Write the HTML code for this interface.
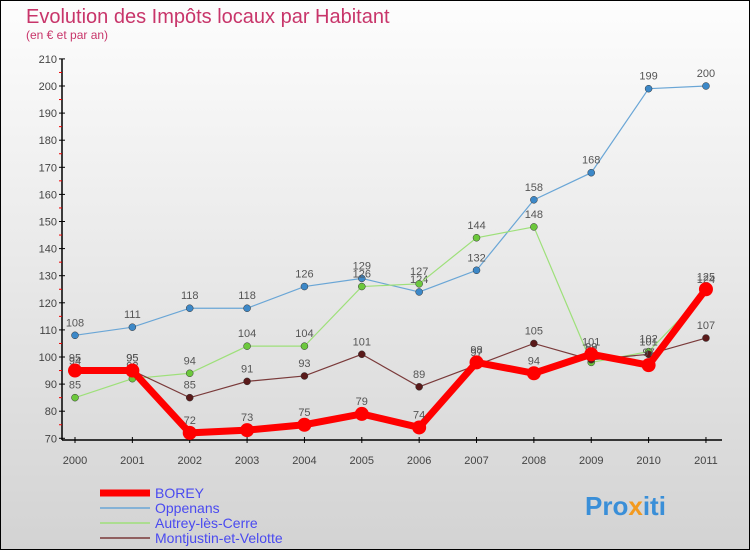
<!DOCTYPE html>
<html><head><meta charset="utf-8"><style>
body{margin:0;width:750px;height:550px;overflow:hidden;font-family:"Liberation Sans",sans-serif}
#c{position:absolute;left:0;top:0;width:748px;height:548px;border:1px solid #000;background:linear-gradient(#fdfdfd,#d3d3d3)}
</style></head><body>
<div id="c"></div>
<svg id="s" width="750" height="550" style="position:absolute;left:0;top:0">
<text x="26" y="23" font-size="20" fill="#c8356a">Evolution des Impôts locaux par Habitant</text>
<text x="26" y="39" font-size="12" fill="#c8356a">(en € et par an)</text>
<g id="axes"></g><g id="series"></g><g id="legend"></g>
<text x="585" y="515" font-size="26" font-weight="bold" fill="#3a8fd8">Pro<tspan fill="#f39a1f">x</tspan>iti</text>
</svg>
<script>
const years=[2000,2001,2002,2003,2004,2005,2006,2007,2008,2009,2010,2011];
const yTicks=[70,80,90,100,110,120,130,140,150,160,170,180,190,200,210];
const borey=[95,95,72,73,75,79,74,98,94,101,97,125];
const oppenans=[108,111,118,118,126,129,124,132,158,168,199,200];
const autrey=[85,92,94,104,104,126,127,144,148,98,102,124];
const montjustin=[94,95,85,91,93,101,89,97,105,99,101,107];
const NS="http://www.w3.org/2000/svg";
function xs(i){return 75+i*57.36;}
function ys(v){return 357-(v-100)*2.71;}
function mk(tag,at,par){const e=document.createElementNS(NS,tag);for(const k in at)e.setAttribute(k,at[k]);par.appendChild(e);return e;}
const ax=document.getElementById('axes');
let e=mk('line',{x1:62,y1:ys(210),x2:62,y2:440,stroke:'#000','stroke-width':1.5},ax);

e=mk('line',{x1:62,y1:440,x2:722,y2:440,stroke:'#000','stroke-width':1.5},ax);

yTicks.forEach(v=>{
 mk('line',{x1:59,y1:ys(v),x2:65,y2:ys(v),stroke:'#000'},ax);
 if(v<210)mk('line',{x1:59,y1:ys(v+5),x2:62,y2:ys(v+5),stroke:'#e00'},ax);
 const t=mk('text',{x:57,y:ys(v)+4,'font-size':11,'text-anchor':'end',fill:'#444'},ax);t.textContent=v;
 
});
years.forEach((y,i)=>{
 mk('line',{x1:xs(i),y1:437,x2:xs(i),y2:443,stroke:'#000'},ax);
 const t=mk('text',{x:xs(i),y:464,'font-size':11,'text-anchor':'middle',fill:'#444'},ax);t.textContent=y;
 
});
const sg=document.getElementById('series');
const defs=[
 {d:oppenans,c:'#6aa6d6',f:'#3c88c8',w:1.2,r:3.5,n:'oppenans',l:'Oppenans'},
 {d:autrey,c:'#9ee07a',f:'#6cc83c',w:1.2,r:3.5,n:'autrey',l:'Autrey-lès-Cerre'},
 {d:montjustin,c:'#7a3a3a',f:'#5a1a1a',w:1.2,r:3.5,n:'montjustin',l:'Montjustin-et-Velotte'},
 {d:borey,c:'#ff0000',f:'#ff0000',w:7,r:7,n:'borey',l:'BOREY'}];
defs.forEach(s=>{
 const g=mk('g',{},sg);
 
 const p=mk('polyline',{points:s.d.map((v,i)=>xs(i)+','+ys(v)).join(' '),fill:'none',stroke:s.c,'stroke-width':s.w},g);
 
 s.d.forEach((v,i)=>{
  const c=mk('circle',{cx:xs(i),cy:ys(v),r:s.r,fill:s.f,stroke:s.n=='borey'?'none':'#333','stroke-width':0.5},g);
  
  const t=mk('text',{x:xs(i),y:ys(v)-9,'font-size':11,'text-anchor':'middle',fill:'#555'},g);t.textContent=v;
  
 });
});
const lg=document.getElementById('legend');
[defs[3],defs[0],defs[1],defs[2]].forEach((s,i)=>{
 const y=493+i*15;
 const g=mk('g',{},lg);
 
 mk('line',{x1:100,y1:y,x2:150,y2:y,stroke:s.c,'stroke-width':s.n=='borey'?7:1.5},g);
 const t=mk('text',{x:155,y:y+5,'font-size':14,fill:'#4a4af0'},g);t.textContent=s.l;
});
</script>
</body></html>
